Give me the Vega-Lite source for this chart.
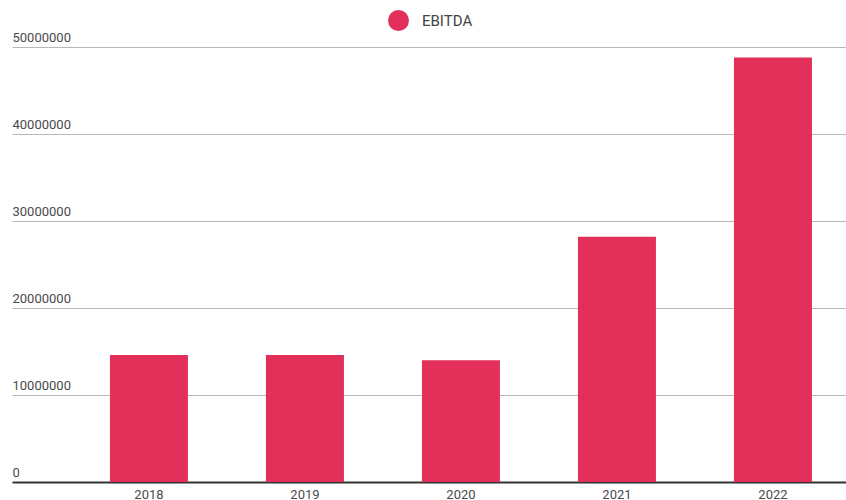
{
  "$schema": "https://vega.github.io/schema/vega-lite/v6.json",
  "width": 834,
  "height": 435,
  "autosize": {"type": "none"},
  "padding": {"left": 12, "top": 47, "right": 0, "bottom": 18},
  "background": "white",
  "config": {"view": {"stroke": null}, "font": "Roboto"},
  "data": {
    "values": [
      {"year": "2018", "EBITDA": 14600000, "series": "EBITDA"},
      {"year": "2019", "EBITDA": 14600000, "series": "EBITDA"},
      {"year": "2020", "EBITDA": 14000000, "series": "EBITDA"},
      {"year": "2021", "EBITDA": 28200000, "series": "EBITDA"},
      {"year": "2022", "EBITDA": 48800000, "series": "EBITDA"}
    ]
  },
  "mark": {"type": "bar"},
  "encoding": {
    "x": {
      "field": "year",
      "type": "ordinal",
      "scale": {"paddingInner": 0.5, "paddingOuter": 0.423, "align": 0.742},
      "axis": {
        "title": null,
        "labelAngle": 0,
        "ticks": false,
        "tickSize": 0,
        "domainColor": "#333333",
        "domainWidth": 2,
        "labelColor": "#4a4a4a",
        "labelFontSize": 13,
        "labelPadding": 6,
        "grid": false
      }
    },
    "y": {
      "field": "EBITDA",
      "type": "quantitative",
      "scale": {"domain": [0, 50000000]},
      "axis": {
        "title": null,
        "values": [0, 10000000, 20000000, 30000000, 40000000, 50000000],
        "format": "d",
        "labelAlign": "left",
        "labelBaseline": "bottom",
        "labelPadding": 0,
        "ticks": false,
        "tickSize": 0,
        "domain": false,
        "labelOffset": -3,
        "grid": true,
        "gridColor": "#b7b7b7",
        "gridWidth": 1,
        "labelColor": "#4a4a4a",
        "labelFontSize": 13
      }
    },
    "color": {
      "field": "series",
      "type": "nominal",
      "scale": {"range": ["#e2305a"]},
      "legend": {
        "title": null,
        "orient": "none",
        "legendX": 376,
        "legendY": -37,
        "symbolType": "circle",
        "symbolSize": 441,
        "symbolStrokeWidth": 0,
        "labelFontSize": 15,
        "labelColor": "#444444",
        "labelOffset": 13
      }
    }
  }
}
